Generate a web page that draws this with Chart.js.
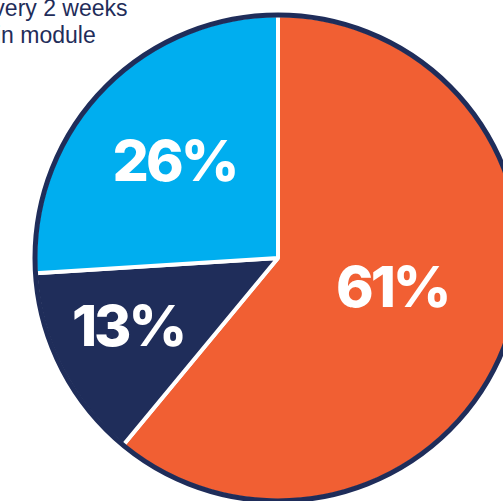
<!DOCTYPE html>
<html>
<head>
<meta charset="utf-8">
<script src="https://cdn.jsdelivr.net/npm/chart.js@4.4.1/dist/chart.umd.min.js"></script>
<style>
  html, body { margin: 0; padding: 0; background: #ffffff; overflow: hidden; }
  body { width: 503px; height: 501px; position: relative; }
  #wrap { position: absolute; left: 0; top: 0; }
  .note {
    position: absolute; margin: 0; white-space: nowrap;
    font-family: "Liberation Sans", Arial, sans-serif; font-size: 23px;
    color: #1f2d5a; line-height: 23px;
  }
</style>
</head>
<body>
<p class="note" style="left:-22px; top:-3px;">Every 2 weeks</p>
<p class="note" style="left:-4px; top:24px;">in module</p>
<div id="wrap"><canvas id="pie" width="556" height="516"></canvas></div>
<script>
// Share of responses, drawn clockwise from 12 o'clock
const categories = ["Group A", "Group B", "Group C"];
const shares = [61, 13, 26];
const sliceColors = ["#f15f33", "#1f2d5a", "#00aeef"];
const valueLabels = shares.map(v => v + "%");

// Where each value label sits: fraction of the radius and a small angular nudge (degrees)
const labelRadius = [0.48, 0.68, 0.59];
const labelNudge = [-6, 3, 0];

const outlinePlugin = {
  id: "outlineAndLabels",
  afterDatasetsDraw(chart) {
    const ctx = chart.ctx;
    const arcs = chart.getDatasetMeta(0).data;
    if (!arcs.length) return;
    const { x, y, outerRadius } = arcs[0].getProps(["x", "y", "outerRadius"], true);

    // navy ring around the whole pie
    ctx.save();
    ctx.beginPath();
    ctx.arc(x, y, outerRadius, 0, Math.PI * 2);
    ctx.lineWidth = 5;
    ctx.strokeStyle = "#1f2d5a";
    ctx.stroke();
    ctx.restore();

    // value labels
    ctx.save();
    ctx.fillStyle = "#ffffff";
    ctx.font = "800 57px Inter, 'Noto Sans', sans-serif";
    ctx.letterSpacing = "-3px";
    ctx.textAlign = "center";
    ctx.textBaseline = "alphabetic";
    arcs.forEach((arc, i) => {
      const p = arc.getProps(["startAngle", "endAngle", "outerRadius"], true);
      const mid = (p.startAngle + p.endAngle) / 2 + labelNudge[i] * Math.PI / 180;
      const r = p.outerRadius * labelRadius[i];
      const lx = x + Math.cos(mid) * r;
      const ly = y + Math.sin(mid) * r;
      ctx.fillText(valueLabels[i], lx + 1, ly + 21);
    });
    ctx.restore();
  }
};

new Chart(document.getElementById("pie"), {
  type: "pie",
  data: {
    labels: categories,
    datasets: [{
      data: shares,
      backgroundColor: sliceColors,
      borderColor: "#ffffff",
      borderWidth: 4,
      hoverOffset: 0
    }]
  },
  options: {
    responsive: false,
    devicePixelRatio: 1,
    animation: false,
    radius: 243,
    layout: { padding: 0 },
    plugins: {
      legend: { display: false },
      tooltip: { enabled: false }
    }
  },
  plugins: [outlinePlugin]
});
</script>
</body>
</html>
